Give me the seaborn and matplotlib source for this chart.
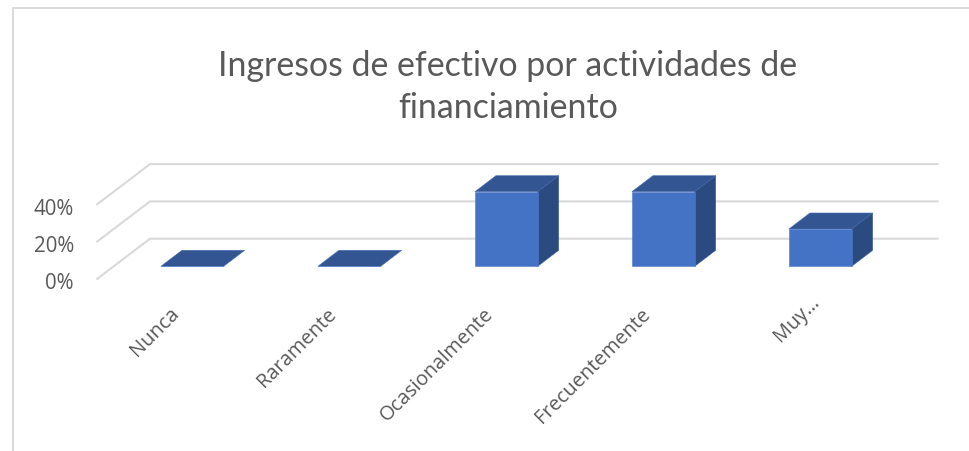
import matplotlib
matplotlib.use("Agg")
import matplotlib.pyplot as plt
import seaborn as sns
import pandas as pd
from matplotlib.patches import Polygon
from matplotlib.lines import Line2D
from matplotlib.transforms import Affine2D

categories = ["Nunca", "Raramente", "Ocasionalmente", "Frecuentemente", "Muy…"]
values = [0.0, 0.0, 0.4, 0.4, 0.2]
y_ticks = [0.0, 0.2, 0.4]
y_labels = ["0%", "20%", "40%"]
title = "Ingresos de efectivo por actividades de\nfinanciamiento"

W, H = 969, 452
sns.set_theme(style="white")
plt.rcParams["font.family"] = ["Open Sans", "DejaVu Sans"]
TXT = "#595959"
GRID = "#d9d9d9"
FRONT, TOP, SIDE = "#4472C4", "#335693", "#2A4A80"

fig = plt.figure(figsize=(W / 100, H / 100), dpi=100, facecolor="white")
# axes spans: x categories (-0.5..4.5) and y 0..0.4, placed in pixels
L, R, B, T = 113.8, 898.8, 267.3, 192.7
ax = fig.add_axes([L / W, 1 - B / H, (R - L) / W, (B - T) / H])
ax.patch.set_alpha(0)

df = pd.DataFrame({"cat": categories, "val": values})
sns.barplot(data=df, x="cat", y="val", ax=ax, color=FRONT, saturation=1, width=0.4,
            edgecolor="#4F7ACA", linewidth=0.4, zorder=4)
ax.set_xlim(-0.5, 4.5)
ax.set_ylim(0, 0.4)
ax.set_xlabel("")
ax.set_ylabel("")
sx = (R - L) / 5      # px per category
sy = (B - T) / 0.4    # px per unit
c0 = L + sx / 2
for s in ax.spines.values():
    s.set_visible(False)

# receding grid
xback, xfront, xend = (150 - c0) / sx, (97 - c0) / sx, (937.7 - c0) / sx
for y in y_ticks:
    yb = y + 27.6 / sy
    yf = y - 12.7 / sy
    ax.plot([xfront, xback, xend], [yf, yb, yb], color=GRID, lw=1.5, clip_on=False,
            zorder=1, solid_joinstyle="miter")

# depth faces derived from bars
dx, dy = 21 / sx, 16 / sy
for p in ax.patches[:len(categories)]:
    x0, w, h = p.get_x(), p.get_width(), p.get_height()
    x1 = x0 + w
    ax.add_patch(Polygon([(x0, h), (x1, h), (x1 + dx, h + dy), (x0 + dx, h + dy)], closed=True,
                         facecolor=TOP, edgecolor="#4A6FB0", lw=0.4, clip_on=False, zorder=3))
    if h > 0:
        ax.add_patch(Polygon([(x1, 0), (x1 + dx, dy), (x1 + dx, h + dy), (x1, h)], closed=True,
                             facecolor=SIDE, edgecolor="#3F64A6", lw=0.4, clip_on=False, zorder=3))
    p.set_clip_on(False)

# y tick labels
ax.set_yticks(y_ticks)
ax.set_yticklabels(y_labels)
ax.tick_params(axis="y", length=0, pad=(L - 74) * 0.72, labelsize=14.8, labelcolor=TXT)
for lab in ax.get_yticklabels():
    lab.set_transform(lab.get_transform() + Affine2D().translate(0, -14))

# x tick labels
ax.set_xticks(range(len(categories)))
ax.set_xticklabels(categories, rotation=45, ha="right", va="top")
ax.tick_params(axis="x", length=0, pad=(304 - B) * 0.72, labelsize=14.4, labelcolor=TXT)
for i, lab in enumerate(ax.get_xticklabels()):
    off = (3, 12) if i == len(categories) - 1 else (-8.5, 0)
    lab.set_transform(lab.get_transform() + Affine2D().translate(*off))

fig.text(508 / W, 1 - 87 / H, title, ha="center", va="center", fontsize=24.4, color=TXT,
         linespacing=1.42, family=["Lato", "DejaVu Sans"])

# chart frame
fig.add_artist(Line2D([12.5 / W, 12.5 / W, 1.0], [0, 1 - 8.5 / H, 1 - 8.5 / H], color=GRID, lw=1.4))

fig.savefig("out.png", dpi=100)
